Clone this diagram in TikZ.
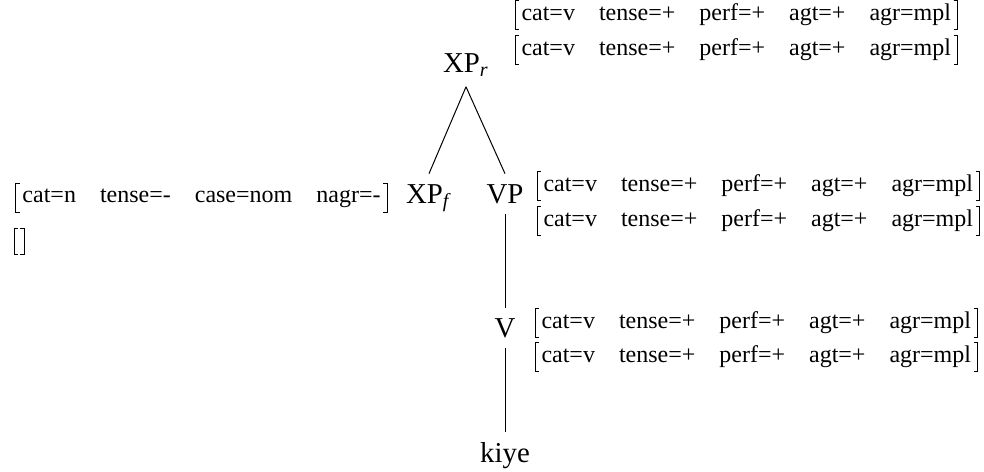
\documentclass[tikz,border=0pt]{standalone}
\usepackage{fontspec}
\setmainfont{Liberation Serif}
\usepackage{tikz}

\tikzset{
  cat/.style={inner sep=5pt, font=\fontsize{14.4}{17}\selectfont},
  avm/.style={inner xsep=3pt, inner ysep=0pt, minimum height=14pt},
  emptyavm/.style={inner sep=0pt, minimum width=4.5pt, minimum height=12.5pt}
}
% square brackets round a feature row
\newcommand{\avmbox}[1]{
  \draw ([xshift=2pt]#1.north west) -- (#1.north west) -- (#1.south west) -- ([xshift=2pt]#1.south west);
  \draw ([xshift=-2pt]#1.north east) -- (#1.north east) -- (#1.south east) -- ([xshift=-2pt]#1.south east);
}
\newcommand{\fv}{cat=v\quad tense=+\quad perf=+\quad agt=+\quad agr=mpl}

\begin{document}
\begin{tikzpicture}[x=0.5pt, y=-0.5pt, font=\fontsize{12}{14}\selectfont, line width=0.5pt]
                \useasboundingbox (0,0) rectangle (984,471);
                \node[cat, anchor=base] (XPr) at (466,72) {XP\textsubscript{\textit{r}}};
                \node[cat, anchor=base] (XPf) at (429,203) {XP\textsubscript{\textit{f}}};
                \node[cat, anchor=base] (VP) at (505,203) {VP};
                \node[cat, anchor=base] (V) at (505,337) {V};
                \node[cat, anchor=base] (kiye) at (505,462) {kiye};
                \draw (XPr.south) -- (XPf.north);
                \draw (XPr.south) -- (VP.north);
                \draw (VP.south) -- (V.north);
                \draw (V.south) -- (kiye.north);
                % feature rows
                \node[avm, anchor=west] (r1) at (515,15) {\fv};
                \node[avm, anchor=west] (r2) at (515,50) {\fv};
                \node[avm, anchor=west] (vp1) at (537,186) {\fv};
                \node[avm, anchor=west] (vp2) at (537,221) {\fv};
                \node[avm, anchor=west] (v1) at (535,323) {\fv};
                \node[avm, anchor=west] (v2) at (535,357) {\fv};
                \node[avm, anchor=east] (f1) at (387,198) {cat=n\quad tense=-\quad case=nom\quad nagr=-};
                \node[emptyavm, anchor=west] (f2) at (14,241) {};
                \foreach \m in {r1,r2,vp1,vp2,v1,v2,f1,f2} {\avmbox{\m}}
            \end{tikzpicture}
\end{document}
